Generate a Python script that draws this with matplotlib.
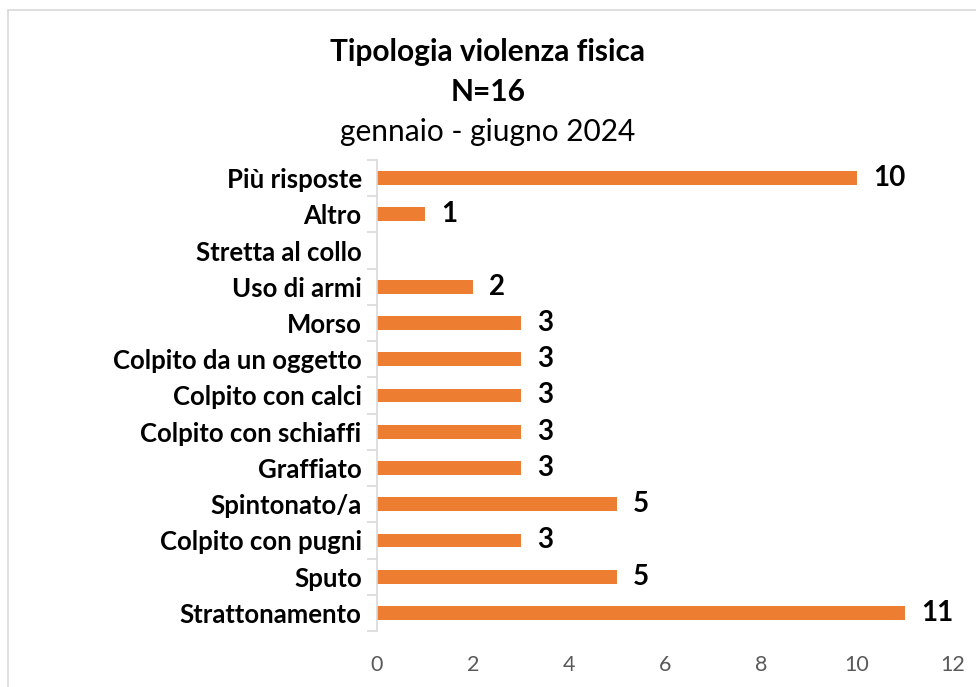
import matplotlib.pyplot as plt
from matplotlib.patches import Rectangle

plt.rcParams['font.family'] = ['Lato', 'DejaVu Sans']

categories = ["Strattonamento", "Sputo", "Colpito con pugni", "Spintonato/a",
              "Graffiato", "Colpito con schiaffi", "Colpito con calci",
              "Colpito da un oggetto", "Morso", "Uso di armi",
              "Stretta al collo", "Altro", "Più risposte"]
values = [11, 5, 3, 5, 3, 3, 3, 3, 3, 2, 0, 1, 10]
xticks = [0, 2, 4, 6, 8, 10, 12]

fig = plt.figure(figsize=(9.76, 6.87), dpi=100)

# chart border
fig.patches.append(Rectangle((8/976, -0.01), 1.0, 1 - 10/687 + 0.01,
                             transform=fig.transFigure, fill=False,
                             edgecolor='#d9d9d9', linewidth=1.2))

ax = fig.add_axes([377/976, 1 - 631/687, (953 - 377)/976, (631 - 160)/687])

y = range(len(categories))
ax.barh(y, values, height=0.38, color='#ED7D31')

for yi, v in zip(y, values):
    if v > 0:
        ax.text(v + 0.33, yi, str(v), va='center', ha='left',
                fontsize=20, fontweight='bold', color='black')

ax.set_xlim(0, 12)
ax.set_ylim(-0.5, len(categories) - 0.5)
ax.set_xticks(xticks)
ax.set_xticklabels([str(t) for t in xticks], color='#595959', fontsize=15.5)
ax.tick_params(axis='x', length=0, pad=17)

ax.set_yticks(list(y))
ax.set_yticklabels(categories, fontsize=18.5, fontweight='bold', color='black')
ax.tick_params(axis='y', length=0, pad=11)
ax.set_yticks([i - 0.5 for i in range(len(categories) + 1)], minor=True)
ax.tick_params(axis='y', which='minor', length=7, color='#d9d9d9', width=1.2)

for s in ['top', 'right', 'bottom']:
    ax.spines[s].set_visible(False)
ax.spines['left'].set_color('#d9d9d9')
ax.spines['left'].set_linewidth(1.2)

fig.text(0.5, 1 - 52/687, "Tipologia violenza fisica", ha='center', va='center',
         fontsize=21.5, fontweight='bold')
fig.text(0.5, 1 - 92/687, "N=16", ha='center', va='center',
         fontsize=21.5, fontweight='bold')
fig.text(0.5, 1 - 132/687, "gennaio - giugno 2024", ha='center', va='center',
         fontsize=21.5)

fig.savefig("out.png", dpi=100)
